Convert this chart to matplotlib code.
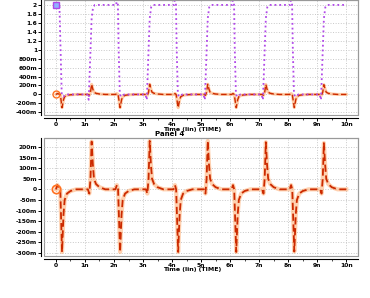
import numpy as np
import matplotlib.pyplot as plt
from matplotlib.patches import Rectangle
from matplotlib.ticker import FixedLocator, MultipleLocator

# waveform samples (time in ns, value in V)
t_clk = [0, 0.12, 0.16, 0.2, 0.25, 0.35,
         1.08, 1.13, 1.18, 1.23, 1.28, 1.34, 1.42,
         2.08, 2.12, 2.16, 2.2, 2.25, 2.35,
         3.08, 3.13, 3.18, 3.23, 3.28, 3.34, 3.42,
         4.08, 4.12, 4.16, 4.2, 4.25, 4.35,
         5.08, 5.13, 5.18, 5.23, 5.28, 5.34, 5.42,
         6.08, 6.12, 6.16, 6.2, 6.25, 6.35,
         7.08, 7.13, 7.18, 7.23, 7.28, 7.34, 7.42,
         8.08, 8.12, 8.16, 8.2, 8.25, 8.35,
         9.08, 9.13, 9.18, 9.23, 9.28, 9.34, 9.42, 10.0]
v_clk = [2.0, 2.0, 1.0, 0.0, -0.05, 0.0,
         0.0, -0.12, 0.8, 1.7, 1.95, 2.0, 2.0,
         2.0, 2.6, 1.0, 0.0, -0.05, 0.0,
         0.0, -0.12, 0.8, 1.7, 1.95, 2.0, 2.0,
         2.0, 2.6, 1.0, 0.0, -0.05, 0.0,
         0.0, -0.12, 0.8, 1.7, 1.95, 2.0, 2.0,
         2.0, 2.6, 1.0, 0.0, -0.05, 0.0,
         0.0, -0.12, 0.8, 1.7, 1.95, 2.0, 2.0,
         2.0, 2.6, 1.0, 0.0, -0.05, 0.0,
         0.0, -0.12, 0.8, 1.7, 1.95, 2.0, 2.0, 2.0]

t_out = [0, 0.05, 0.1, 0.15, 0.21, 0.26, 0.3, 0.38, 0.5, 0.7,
         1.1, 1.15, 1.19, 1.23, 1.27, 1.31, 1.38, 1.5, 1.7,
         2.05, 2.1, 2.14, 2.21, 2.26, 2.3, 2.38, 2.5, 2.7,
         3.1, 3.15, 3.19, 3.23, 3.27, 3.31, 3.38, 3.5, 3.7,
         4.05, 4.1, 4.14, 4.21, 4.26, 4.3, 4.38, 4.5, 4.7,
         5.1, 5.15, 5.19, 5.23, 5.27, 5.31, 5.38, 5.5, 5.7,
         6.05, 6.1, 6.14, 6.21, 6.26, 6.3, 6.38, 6.5, 6.7,
         7.1, 7.15, 7.19, 7.23, 7.27, 7.31, 7.38, 7.5, 7.7,
         8.05, 8.1, 8.14, 8.21, 8.26, 8.3, 8.38, 8.5, 8.7,
         9.1, 9.15, 9.19, 9.23, 9.27, 9.31, 9.38, 9.5, 9.7, 10.0]
v_out = [0.0, 0.02, 0.01, 0.0, -0.295, -0.12, -0.05, -0.02, -0.008, 0.0,
         0.0, -0.02, 0.05, 0.225, 0.12, 0.05, 0.025, 0.01, 0.0,
         0.0, 0.02, 0.0, -0.295, -0.12, -0.05, -0.02, -0.008, 0.0,
         0.0, -0.02, 0.05, 0.228, 0.12, 0.05, 0.025, 0.01, 0.0,
         0.0, 0.02, 0.0, -0.295, -0.12, -0.05, -0.02, -0.008, 0.0,
         0.0, -0.02, 0.05, 0.228, 0.12, 0.05, 0.025, 0.01, 0.0,
         0.0, 0.02, 0.0, -0.295, -0.12, -0.05, -0.02, -0.008, 0.0,
         0.0, -0.02, 0.05, 0.222, 0.12, 0.05, 0.025, 0.01, 0.0,
         0.0, 0.02, 0.0, -0.293, -0.12, -0.05, -0.02, -0.008, 0.0,
         0.0, -0.02, 0.05, 0.218, 0.12, 0.05, 0.025, 0.01, 0.0, 0.0]

xticks = [0, 1, 2, 3, 4, 5, 6, 7, 8, 9, 10]
xlabels = ['0', '1n', '2n', '3n', '4n', '5n', '6n', '7n', '8n', '9n', '10n']
yticks_top = [2, 1.8, 1.6, 1.4, 1.2, 1, 0.8, 0.6, 0.4, 0.2, 0, -0.2, -0.4]
ylabels_top = ['2', '1.8', '1.6', '1.4', '1.2', '1', '800m', '600m', '400m',
               '200m', '0', '-200m', '-400m']
yticks_bot = [0.2, 0.15, 0.1, 0.05, 0, -0.05, -0.1, -0.15, -0.2, -0.25, -0.3]
ylabels_bot = ['200m', '150m', '100m', '50m', '0', '-50m', '-100m', '-150m',
               '-200m', '-250m', '-300m']

purple = '#b048e8'
red = '#cc2a00'
glow = '#ff9a50'

fig = plt.figure(figsize=(3.7, 2.98), dpi=100)
ax1 = fig.add_axes([0.119, 0.614, 0.849, 0.386])
ax2 = fig.add_axes([0.119, 0.141, 0.849, 0.396])


def style(ax, yt, yl, label_y):
    ax.set_xlim(-0.41, 10.41)
    ax.xaxis.set_major_locator(FixedLocator(xticks))
    ax.set_xticklabels(xlabels)
    ax.xaxis.set_minor_locator(MultipleLocator(0.5))
    ax.yaxis.set_major_locator(FixedLocator(yt))
    ax.set_yticklabels(yl)
    ax.grid(True, which='major', color='#c8c8c8', linestyle=':', linewidth=0.7)
    for s in ['top', 'right']:
        ax.spines[s].set_color('#999999')
        ax.spines[s].set_linewidth(0.8)
    ax.spines['bottom'].set_position(('outward', 2))
    ax.spines['left'].set_position(('outward', 2))
    ax.spines['bottom'].set_linewidth(0.8)
    ax.spines['left'].set_linewidth(0.8)
    ax.add_patch(Rectangle((0, 0), 1, 1, transform=ax.transAxes, fill=False,
                           edgecolor='#999999', linewidth=0.8, clip_on=False))
    ax.tick_params(which='major', length=2, width=0.7, labelsize=4.3, pad=1)
    ax.tick_params(which='minor', length=1.2, width=0.5)
    for lab in ax.get_xticklabels() + ax.get_yticklabels():
        lab.set_fontweight('bold')
    ax.set_xlabel('Time (lin) (TIME)', fontsize=4.5, fontweight='bold')
    ax.xaxis.set_label_coords(0.47, label_y)


# top panel
style(ax1, yticks_top, ylabels_top, -0.1)
ax1.set_ylim(-0.46, 2.11)
ax1.plot(t_out, v_out, color=glow, lw=2.2, alpha=0.5)
ax1.plot(t_out, v_out, color=red, lw=1.0, ls=(0, (4, 2)))
ax1.plot(t_clk, v_clk, color=purple, lw=1.3, ls=':')
ax1.plot(t_clk[0], v_clk[0], marker='s', ms=5, mfc='#8fb0ff', mec=purple, mew=1)
ax1.plot(t_out[0], v_out[0], marker='o', ms=5, mfc='none', mec='#ff7020', mew=1)

# bottom panel
style(ax2, yticks_bot, ylabels_bot, -0.097)
ax2.set_ylim(-0.314, 0.242)
ax2.plot(t_out, v_out, color=glow, lw=3.0, alpha=0.45)
ax2.plot(t_out, v_out, color=red, lw=1.3, ls=(0, (4, 2)))
ax2.plot(t_out[0], v_out[0], marker='o', ms=6, mfc='none', mec='#ff7020', mew=1.2)
ax2.set_title('Panel 4', fontsize=5, fontweight='bold', pad=1.5, x=0.4)

fig.savefig('out.png', dpi=100)
